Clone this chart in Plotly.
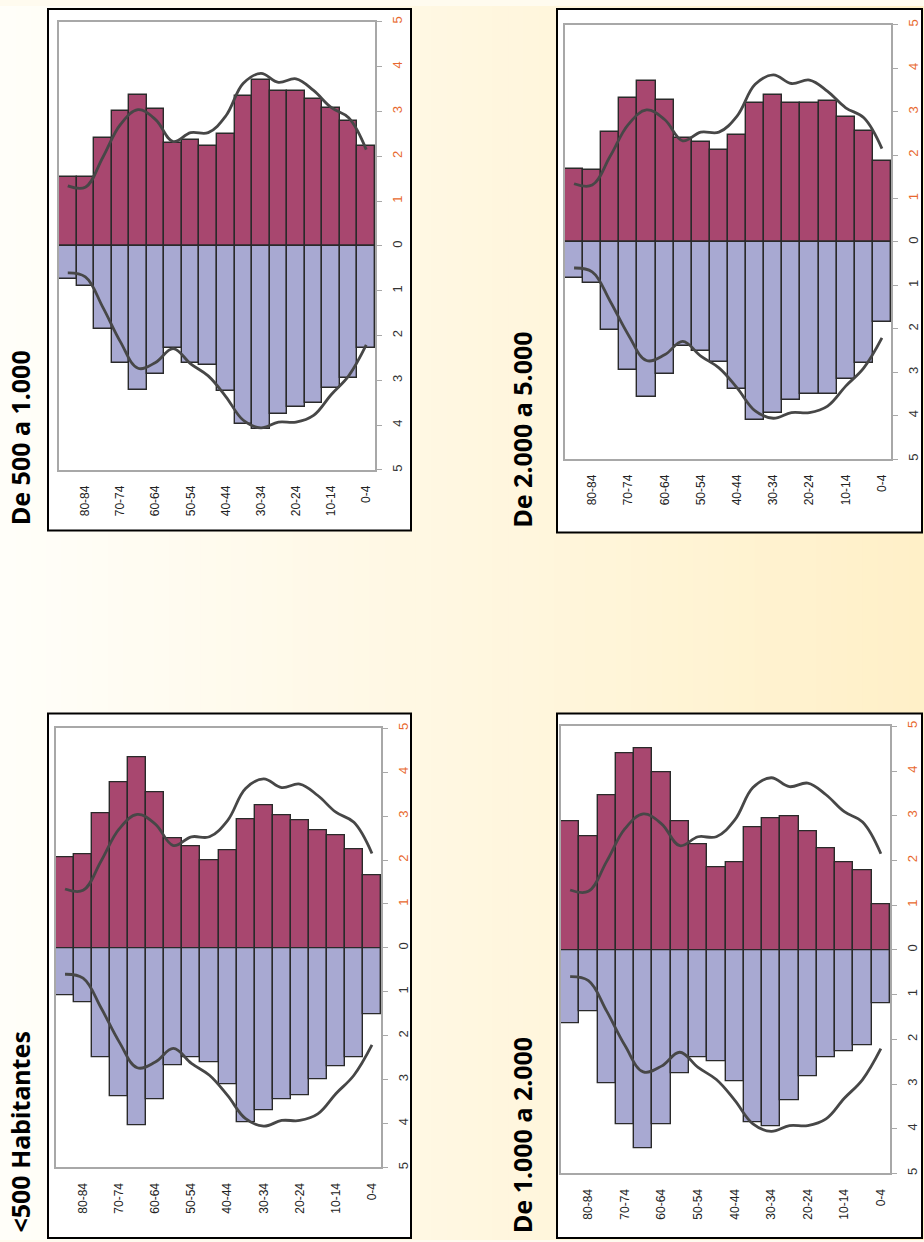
import plotly.graph_objects as go

# Age groups, oldest on the left
edades = ["85+", "80-84", "75-79", "70-74", "65-69", "60-64", "55-59", "50-54", "45-49",
          "40-44", "35-39", "30-34", "25-29", "20-24", "15-19", "10-14", "5-9", "0-4"]
etiquetas_edad = ["80-84", "70-74", "60-64", "50-54", "40-44", "30-34", "20-24", "10-14", "0-4"]

titulos = ["De 500 a 1.000", "De 2.000 a 5.000", "<500 Habitantes", "De 1.000 a 2.000"]

# Percentage of population per age group (upper half: mujeres, lower half: hombres)
mujeres_500_1000 = [1.53, 1.53, 2.42, 3.02, 3.37, 3.05, 2.30, 2.36, 2.23, 2.51, 3.34, 3.71, 3.45, 3.45, 3.28, 3.08, 2.79, 2.23]
hombres_500_1000 = [0.73, 0.89, 1.85, 2.62, 3.21, 2.86, 2.27, 2.60, 2.65, 3.24, 3.97, 4.08, 3.74, 3.60, 3.51, 3.17, 2.95, 2.27]

mujeres_2000_5000 = [1.69, 1.66, 2.53, 3.31, 3.71, 3.28, 2.39, 2.31, 2.13, 2.46, 3.20, 3.39, 3.20, 3.20, 3.24, 2.87, 2.56, 1.87]
hombres_2000_5000 = [0.83, 0.95, 2.02, 2.95, 3.57, 3.04, 2.39, 2.50, 2.76, 3.39, 4.10, 3.94, 3.63, 3.51, 3.51, 3.16, 2.78, 1.83]

mujeres_menos_500 = [2.06, 2.13, 3.06, 3.77, 4.33, 3.55, 2.50, 2.31, 1.99, 2.22, 2.93, 3.24, 3.03, 2.90, 2.68, 2.56, 2.25, 1.66]
hombres_menos_500 = [1.08, 1.24, 2.49, 3.38, 4.04, 3.44, 2.68, 2.49, 2.61, 3.10, 3.98, 3.69, 3.44, 3.35, 2.99, 2.70, 2.49, 1.51]

mujeres_1000_2000 = [2.88, 2.53, 3.45, 4.40, 4.51, 3.97, 2.88, 2.35, 1.84, 1.95, 2.75, 2.94, 2.98, 2.66, 2.28, 1.96, 1.78, 1.01]
hombres_1000_2000 = [1.64, 1.37, 2.99, 3.91, 4.44, 3.91, 2.77, 2.40, 2.50, 2.93, 3.86, 3.95, 3.36, 2.83, 2.40, 2.26, 2.14, 1.20]

# Reference profile drawn over every pyramid
ref_mujeres = [1.34, 1.31, 1.98, 2.71, 3.04, 2.82, 2.33, 2.53, 2.53, 2.90, 3.63, 3.85, 3.65, 3.73, 3.47, 3.09, 2.86, 2.15]
ref_hombres = [0.60, 0.69, 1.37, 2.14, 2.73, 2.60, 2.29, 2.63, 2.90, 3.36, 3.89, 4.06, 3.93, 3.93, 3.78, 3.32, 2.90, 2.21]

valores_eje = [-5, -4, -3, -2, -1, 0, 1, 2, 3, 4, 5]

W, H = 924, 1242
COLOR_MUJ = "#A8476F"
COLOR_HOM = "#A8A9D2"
COLOR_REF = "#474747"
NARANJA = "#E8682E"

# frame = plot area (left, right, top, bottom) in px; box = white card around it
paneles = [
    dict(datos=(mujeres_500_1000, hombres_500_1000), frame=(59, 375, 16, 467), box=(48, 411, 3, 528), tx=20),
    dict(datos=(mujeres_2000_5000, hombres_2000_5000), frame=(565, 891, 19, 456), box=(557, 922, 3, 530), tx=522),
    dict(datos=(mujeres_menos_500, hombres_menos_500), frame=(56, 381, 727, 1169), box=(48, 411, 712, 1240), tx=20),
    dict(datos=(mujeres_1000_2000, hombres_1000_2000), frame=(561, 890, 725, 1175), box=(557, 922, 712, 1240), tx=522),
]

fig = go.Figure()
shapes = []
annotations = []

# soft horizontal background wash
n_strips = 60
c0 = (255, 254, 249)
c1 = (255, 240, 200)
for i in range(n_strips):
    t = i / (n_strips - 1)
    col = tuple(round(c0[k] + (c1[k] - c0[k]) * t) for k in range(3))
    shapes.append(dict(type="rect", xref="paper", yref="paper", layer="below",
                       x0=i / n_strips, x1=(i + 1) / n_strips + 0.002, y0=0, y1=1,
                       fillcolor="rgb(%d,%d,%d)" % col, line=dict(width=0)))

ticktext_y = []
for v in valores_eje:
    if v > 0:
        ticktext_y.append('<span style="color:%s">%d</span>' % (NARANJA, abs(v)))
    else:
        ticktext_y.append(str(abs(v)))

for i, p in enumerate(paneles):
    n = "" if i == 0 else str(i + 1)
    xa, ya = "x" + n, "y" + n
    muj, hom = p["datos"]
    fl, fr, ft, fb = p["frame"]
    bl, br, bt, bb = p["box"]

    shapes.append(dict(type="rect", xref="paper", yref="paper", layer="below",
                       x0=bl / W, x1=br / W, y0=1 - bb / H, y1=1 - bt / H,
                       fillcolor="white", line=dict(color="black", width=2)))

    fig.add_trace(go.Bar(x=edades, y=muj, xaxis=xa, yaxis=ya, marker=dict(color=COLOR_MUJ,
                         line=dict(color="#2a2a2a", width=1.4)), showlegend=False))
    fig.add_trace(go.Bar(x=edades, y=[-v for v in hom], xaxis=xa, yaxis=ya, marker=dict(color=COLOR_HOM,
                         line=dict(color="#2a2a2a", width=1.4)), showlegend=False))
    fig.add_trace(go.Scatter(x=edades, y=ref_mujeres, xaxis=xa, yaxis=ya, mode="lines",
                             line=dict(color=COLOR_REF, width=2.8, shape="spline", smoothing=1.1),
                             showlegend=False))
    fig.add_trace(go.Scatter(x=edades, y=[-v for v in ref_hombres], xaxis=xa, yaxis=ya, mode="lines",
                             line=dict(color=COLOR_REF, width=2.8, shape="spline", smoothing=1.1),
                             showlegend=False))

    fig.layout["xaxis" + n] = dict(
        domain=[fl / W, fr / W], anchor=ya, type="category", categoryorder="array",
        categoryarray=edades, range=[-0.5, 17.5], tickvals=etiquetas_edad, ticktext=etiquetas_edad,
        tickangle=-90, ticks="", ticklabelstandoff=9, showgrid=False, zeroline=False,
        showline=True, linecolor="#A8A8A8", linewidth=1.5, mirror=True,
        tickfont=dict(family="Liberation Sans, Arial", size=12, color="#222222"), fixedrange=True)
    fig.layout["yaxis" + n] = dict(
        domain=[1 - fb / H, 1 - ft / H], anchor=xa, side="right", range=[-5, 5],
        tickvals=valores_eje, ticktext=ticktext_y, tickangle=-90, ticks="outside", ticklen=5,
        tickcolor="#A8A8A8", ticklabelstandoff=5, showgrid=False, zeroline=False,
        showline=True, linecolor="#A8A8A8", linewidth=1.5, mirror=True,
        tickfont=dict(family="Liberation Sans, Arial", size=13, color="#333333"), fixedrange=True)

    annotations.append(dict(text="<b>%s</b>" % titulos[i], xref="paper", yref="paper",
                            x=p["tx"] / W, y=1 - (bb - 3) / H, xanchor="center", yanchor="bottom",
                            textangle=-90, showarrow=False,
                            font=dict(family="Noto Sans", size=25, color="black")))

fig.update_layout(width=W, height=H, margin=dict(l=0, r=0, t=0, b=0),
                  paper_bgcolor="#FFFBEF", plot_bgcolor="white", barmode="relative", bargap=0,
                  shapes=shapes, annotations=annotations)

fig.write_html("out.html")
